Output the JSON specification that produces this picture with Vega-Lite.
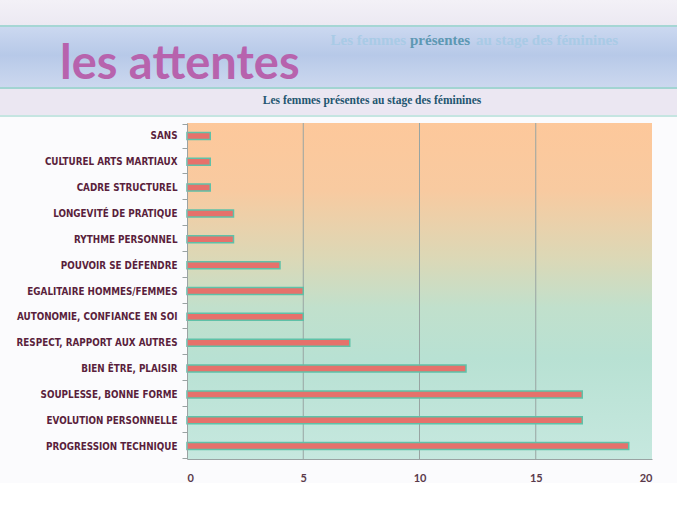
{
  "$schema": "https://vega.github.io/schema/vega-lite/v6.json",
  "background": "#fbfbfd",
  "padding": 0,
  "spacing": 1,
  "config": {"view": {"stroke": null}},
  "vconcat": [
    {
      "width": 677,
      "height": 117,
      "view": {
        "fill": {
          "gradient": "linear", "x1": 0, "y1": 0, "x2": 0, "y2": 1,
          "stops": [
            {"offset": 0, "color": "#f3f1f7"},
            {"offset": 0.213, "color": "#ece9f2"},
            {"offset": 0.214, "color": "#a5d6d4"},
            {"offset": 0.23, "color": "#a5d6d4"},
            {"offset": 0.231, "color": "#cbd8f0"},
            {"offset": 0.47, "color": "#b7c9e8"},
            {"offset": 0.745, "color": "#ccd8ef"},
            {"offset": 0.746, "color": "#a2d4d2"},
            {"offset": 0.762, "color": "#a2d4d2"},
            {"offset": 0.763, "color": "#ebe7f2"},
            {"offset": 0.985, "color": "#ebe7f2"},
            {"offset": 0.986, "color": "#c5e5e1"},
            {"offset": 1, "color": "#c5e5e1"}
          ]
        }
      },
      "layer": [
        {
          "data": {"values": [{"t": "les attentes"}]},
          "mark": {"type": "text", "align": "left", "baseline": "alphabetic", "dx": -278.5, "dy": 20.5, "font": "Lato", "fontWeight": "bold", "fontSize": 47, "color": "#b763ad"},
          "encoding": {"text": {"field": "t"}}
        },
        {
          "data": {"values": [{"t": "Les femmes"}]},
          "mark": {"type": "text", "align": "right", "baseline": "alphabetic", "dx": 67.5, "dy": -13.5, "font": "Liberation Serif", "fontWeight": "bold", "fontSize": 15, "color": "#a9cbe6"},
          "encoding": {"text": {"field": "t"}}
        },
        {
          "data": {"values": [{"t": "présentes"}]},
          "mark": {"type": "text", "align": "left", "baseline": "alphabetic", "dx": 71.5, "dy": -13.5, "font": "Liberation Serif", "fontWeight": "bold", "fontSize": 15, "color": "#5d98b3"},
          "encoding": {"text": {"field": "t"}}
        },
        {
          "data": {"values": [{"t": "au stage des féminines"}]},
          "mark": {"type": "text", "align": "left", "baseline": "alphabetic", "dx": 137.5, "dy": -13.5, "font": "Liberation Serif", "fontWeight": "bold", "fontSize": 15, "color": "#a9cbe6"},
          "encoding": {"text": {"field": "t"}}
        },
        {
          "data": {"values": [{"t": "Les femmes présentes au stage des féminines"}]},
          "mark": {"type": "text", "align": "center", "baseline": "alphabetic", "dx": 33.5, "dy": 45.5, "font": "Liberation Serif", "fontWeight": "bold", "fontSize": 11.5, "color": "#1f5670"},
          "encoding": {"text": {"field": "t"}}
        }
      ]
    },
    {
      "width": 677,
      "height": 336,
      "layer": [
        {
          "data": {"values": [{"debut": 0, "fin": 20}]},
          "mark": {
            "type": "rect",
            "fill": {
              "gradient": "linear", "x1": 0, "y1": 0, "x2": 0, "y2": 1,
              "stops": [
                {"offset": 0, "color": "#fdc89b"},
                {"offset": 0.2, "color": "#f8caa0"},
                {"offset": 0.4, "color": "#dcd8b6"},
                {"offset": 0.55, "color": "#c1e0cc"},
                {"offset": 0.7, "color": "#b8e1d3"},
                {"offset": 1, "color": "#c6e8df"}
              ]
            }
          },
          "encoding": {
            "x": {"field": "debut", "type": "quantitative"},
            "x2": {"field": "fin"}
          }
        },
        {
          "data": {"values": [{"v": 5}, {"v": 10}, {"v": 15}]},
          "mark": {"type": "rule", "color": "#98a4a2", "strokeWidth": 1},
          "encoding": {"x": {"field": "v", "type": "quantitative"}}
        },
        {
          "data": {
            "values": [
              {"attente": "Sans", "nombre": 1},
              {"attente": "Culturel arts martiaux", "nombre": 1},
              {"attente": "Cadre structurel", "nombre": 1},
              {"attente": "Longevité de pratique", "nombre": 2},
              {"attente": "Rythme personnel", "nombre": 2},
              {"attente": "Pouvoir se défendre", "nombre": 4},
              {"attente": "Egalitaire hommes/femmes", "nombre": 5},
              {"attente": "Autonomie, confiance en soi", "nombre": 5},
              {"attente": "Respect, rapport aux autres", "nombre": 7},
              {"attente": "Bien être, plaisir", "nombre": 12},
              {"attente": "Souplesse, bonne forme", "nombre": 17},
              {"attente": "Evolution personnelle", "nombre": 17},
              {"attente": "Progression technique", "nombre": 19}
            ]
          },
          "mark": {"type": "bar", "size": 7, "fill": "#e6716b", "stroke": "#5fc1a8", "strokeWidth": 1.5},
          "encoding": {
            "y": {
              "field": "attente", "type": "nominal", "sort": null,
              "axis": {
                "title": null, "grid": false, "offset": -187, "zindex": 1,
                "domainColor": "#9aa3a3", "tickColor": "#9aa3a3", "tickSize": 5, "tickBand": "extent",
                "labelPadding": 5, "labelFont": "DejaVu Sans Condensed, Liberation Sans, sans-serif", "labelFontWeight": "bold",
                "labelFontSize": 9.8, "labelColor": "#5a1f3c", "labelLimit": 300,
                "labelExpr": "upper(datum.label)"
              }
            },
            "x": {
              "field": "nombre", "type": "quantitative",
              "scale": {"domain": [0, 20], "range": [187, 652]},
              "axis": {
                "title": null, "values": [0, 5, 10, 15, 20], "grid": false, "zindex": 1,
                "ticks": false, "domainColor": "#9aa3a3", "labelPadding": 13,
                "labelFont": "Lato", "labelFontWeight": "bold", "labelFontSize": 11, "labelColor": "#5a3a4a"
              }
            }
          }
        }
      ]
    }
  ]
}
